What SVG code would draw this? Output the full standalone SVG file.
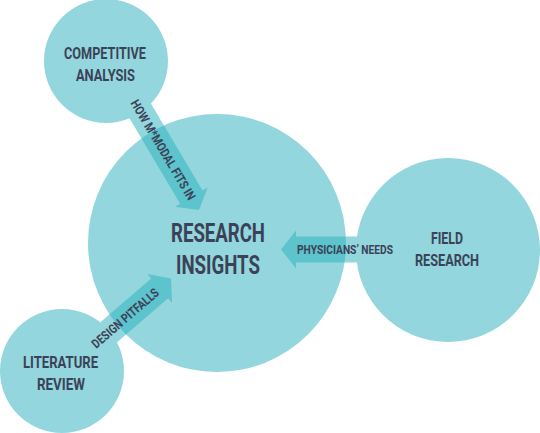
<svg xmlns="http://www.w3.org/2000/svg" width="540" height="433" viewBox="0 0 540 433">
  <style>
    .bubble { fill: #93D6DD; }
    .flow { fill: #27AFBD; fill-opacity: 0.5; }
    .lbl { font-family: Roboto, "Liberation Sans", sans-serif; font-weight: 700; fill: #3B4257; }
    .big { font-size: 26.7px; }
    .mid { font-size: 17px; }
    .small { font-size: 12.7px; }
  </style>
  <defs>
    <!-- arrow pointing along +x with its tip at the origin -->
    <polygon id="arrow" points="0,0 -15,-19 -15,-13 -130,-13 -130,13 -15,13 -15,19"/>
  </defs>

  <!-- central hub -->
  <g id="research-insights">
    <circle class="bubble" cx="217" cy="243" r="129"/>
  </g>

  <!-- connectors -->
  <g id="connectors">
    <use href="#arrow" class="flow" transform="translate(199,210) rotate(59.3)"/>
    <use href="#arrow" class="flow" transform="translate(281,249.5) rotate(180)"/>
    <use href="#arrow" class="flow" transform="translate(171,278.5) rotate(-40.8)"/>
  </g>

  <g id="competitive-analysis">
    <circle class="bubble" cx="106" cy="61" r="62"/>
  </g>
  <g id="field-research">
    <circle class="bubble" cx="448" cy="250" r="92"/>
  </g>
  <g id="literature-review">
    <circle class="bubble" cx="62" cy="371" r="62"/>
  </g>

  <!-- node labels -->
  <g id="labels">
    <text class="lbl big" x="171" y="242" textLength="94" lengthAdjust="spacingAndGlyphs">RESEARCH</text>
    <text class="lbl big" x="176" y="274" textLength="84" lengthAdjust="spacingAndGlyphs">INSIGHTS</text>
    <text class="lbl mid" x="64" y="59" textLength="82" lengthAdjust="spacingAndGlyphs">COMPETITIVE</text>
    <text class="lbl mid" x="76" y="81" textLength="59" lengthAdjust="spacingAndGlyphs">ANALYSIS</text>
    <text class="lbl mid" x="431" y="244" textLength="32" lengthAdjust="spacingAndGlyphs">FIELD</text>
    <text class="lbl mid" x="415" y="266" textLength="64" lengthAdjust="spacingAndGlyphs">RESEARCH</text>
    <text class="lbl mid" x="23" y="368" textLength="75" lengthAdjust="spacingAndGlyphs">LITERATURE</text>
    <text class="lbl mid" x="37" y="390" textLength="48" lengthAdjust="spacingAndGlyphs">REVIEW</text>
  </g>

  <!-- connector labels -->
  <g id="connector-labels">
    <text class="lbl small" transform="translate(199,210) rotate(59.3)" x="-127" y="4.5" textLength="114" lengthAdjust="spacingAndGlyphs">HOW M*MODAL FITS IN</text>
    <text class="lbl small" x="297" y="254" textLength="96" lengthAdjust="spacingAndGlyphs">PHYSICIANS’ NEEDS</text>
    <text class="lbl small" transform="translate(171,278.5) rotate(-40.8)" x="-102.5" y="4.5" textLength="84" lengthAdjust="spacingAndGlyphs">DESIGN PITFALLS</text>
  </g>
</svg>
